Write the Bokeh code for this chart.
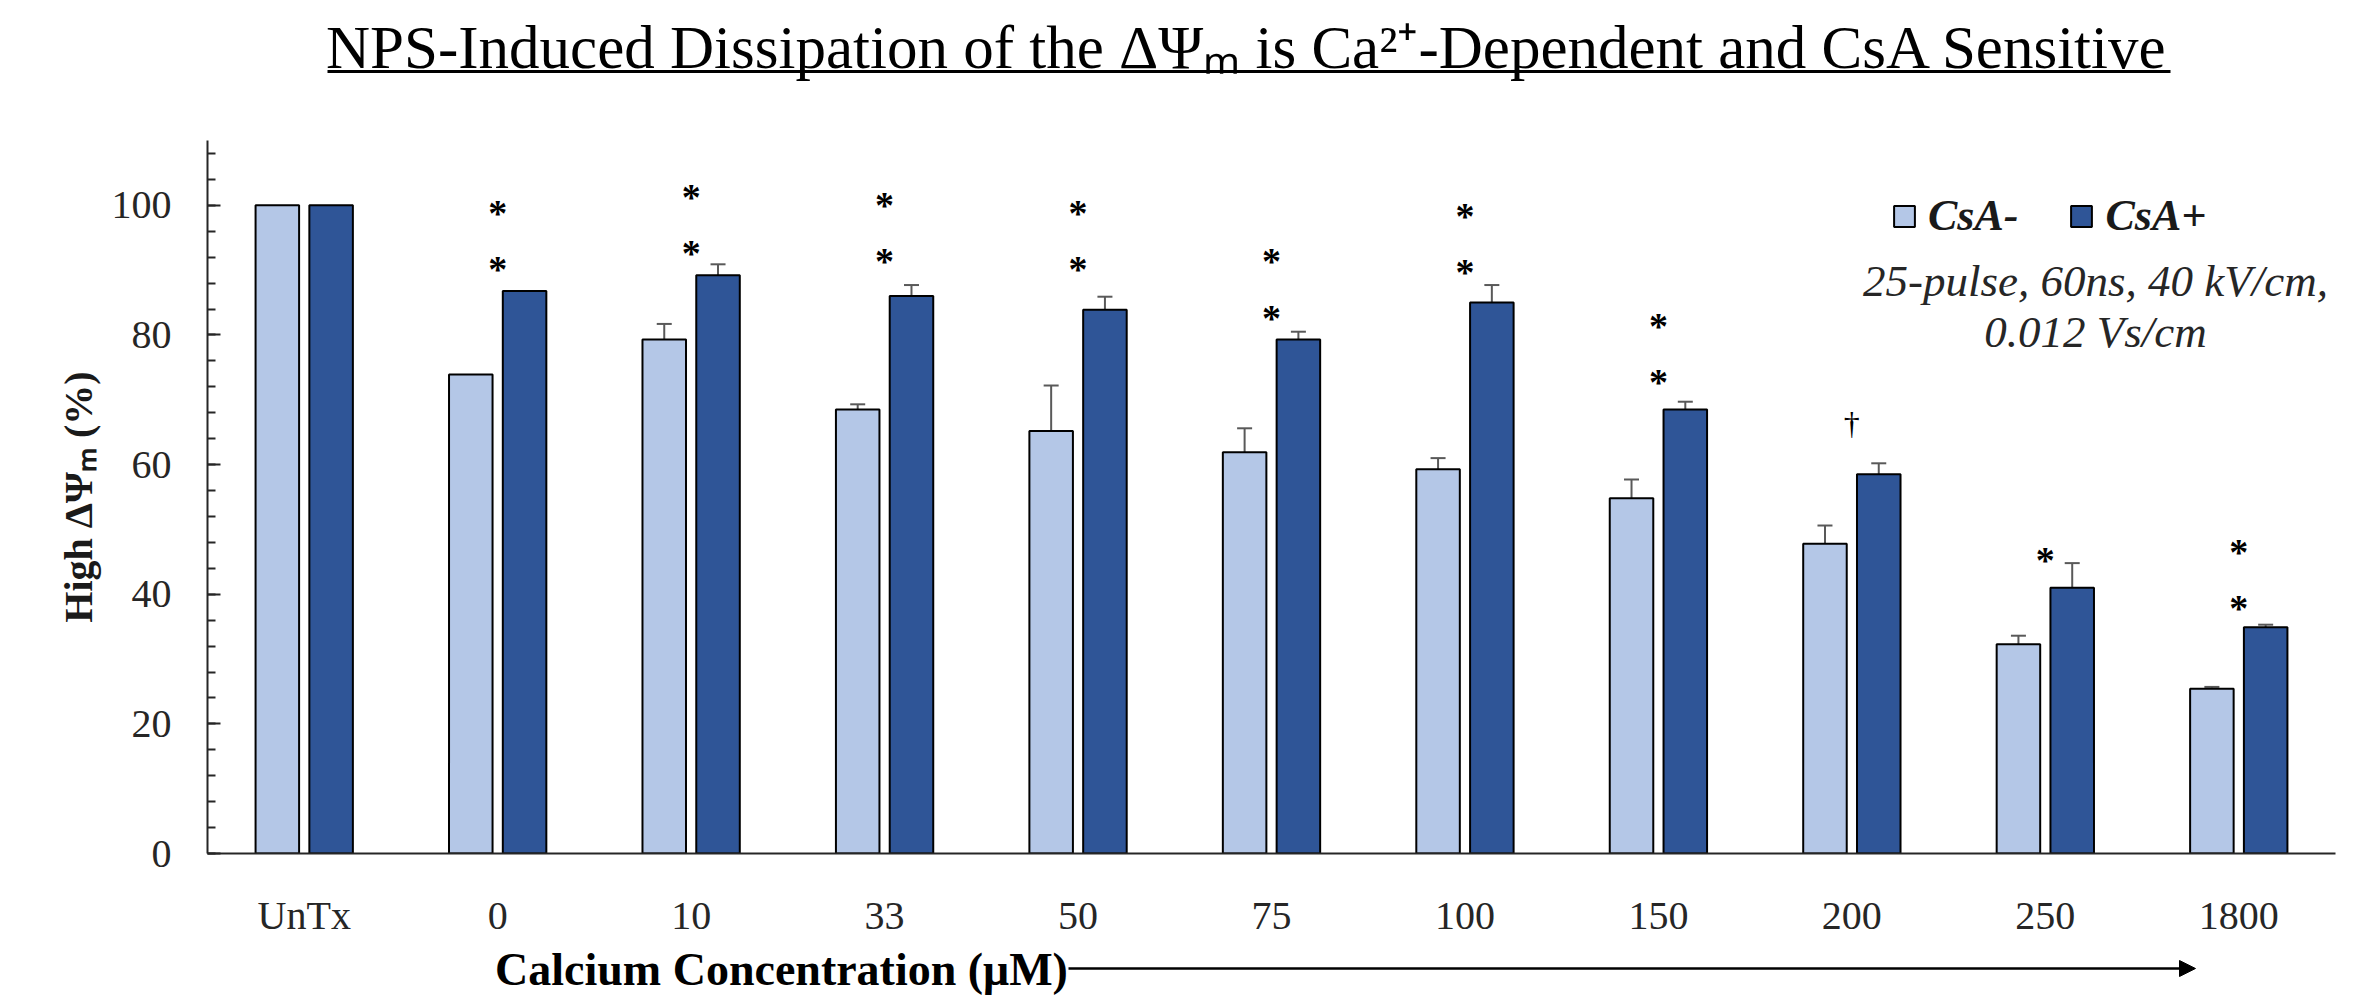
from bokeh.plotting import figure
from bokeh.layouts import column
from bokeh.models import (FactorRange, Range1d, ColumnDataSource, Whisker, TeeHead,
                          Label, Arrow, NormalHead, Legend, LegendItem, SingleIntervalTicker)
from bokeh.transform import dodge
from bokeh.embed import file_html
from bokeh.resources import INLINE
from bokeh.core.properties import value

# ---------------- data ----------------
categories = ["UnTx", "0", "10", "33", "50", "75", "100", "150", "200", "250", "1800"]
csa_minus = [100, 73.9, 79.3, 68.5, 65.2, 61.9, 59.3, 54.8, 47.8, 32.3, 25.4]
csa_minus_err = [0, 0, 2.4, 0.8, 7.0, 3.7, 1.7, 2.9, 2.8, 1.3, 0.3]
csa_plus = [100, 86.8, 89.2, 86.0, 83.9, 79.3, 85.0, 68.5, 58.5, 41.0, 34.9]
csa_plus_err = [0, 0, 1.7, 1.7, 2.0, 1.2, 2.7, 1.2, 1.7, 3.8, 0.4]

star_cats = ["0", "0", "10", "10", "33", "33", "50", "50", "75", "75",
             "100", "100", "150", "150", "250", "1800", "1800"]
star_y = [100.5, 91.8, 103.0, 94.4, 101.8, 93.1, 100.5, 91.8, 93.1, 84.3,
          100.1, 91.4, 83.1, 74.4, 47.0, 48.2, 39.5]
dagger_cats = ["200"]
dagger_y = [67.9]

title_text = "NPS-Induced Dissipation of the \u0394\u03a8\u2098 is Ca\u00b2\u207a-Dependent and CsA Sensitive"
y_title = "High \u0394\u03a8\u2098 (%)"
x_title = "Calcium Concentration (\u03bcM)"
note_line1 = "25-pulse, 60ns, 40 kV/cm,"
note_line2 = "0.012 Vs/cm"

LIGHT = "#B4C7E7"
DARK = "#2F5597"
SERIF = "Liberation Serif"
OFF = 0.139
W = 0.225
LEFT, FRAME_W, RIGHT = 207, 2128, 27


def strip(h):
    # a text strip whose x data units equal the figure's own pixels
    f = figure(frame_width=FRAME_W, frame_height=h,
               min_border_left=LEFT, min_border_right=RIGHT, min_border_top=0, min_border_bottom=0,
               x_range=Range1d(LEFT, LEFT + FRAME_W), y_range=Range1d(0, h),
               x_axis_type=None, y_axis_type=None,
               output_backend="svg", toolbar_location=None, outline_line_color=None,
               background_fill_color="white", border_fill_color="white")
    f.xgrid.visible = False
    f.ygrid.visible = False
    return f

# ---------------- title strip ----------------
top = strip(100)
top.text(x=[1247], y=[53], text=[title_text], text_font=value(SERIF), text_font_size="61px",
         text_align="center", text_baseline="alphabetic", text_color="black")
top.segment(x0=[327], y0=[29], x1=[2170], y1=[29], line_width=3, line_color="black")

# ---------------- main chart ----------------
p = figure(x_range=FactorRange(factors=categories, range_padding=0),
           y_range=Range1d(0, 110),
           frame_width=FRAME_W, frame_height=713,
           min_border_left=LEFT, min_border_right=RIGHT, min_border_top=40, min_border_bottom=80,
           output_backend="svg", toolbar_location=None,
           background_fill_color="white", border_fill_color="white", outline_line_color=None)

src = ColumnDataSource(dict(cats=categories, minus=csa_minus, plus=csa_plus))
r1 = p.vbar(x=dodge("cats", -OFF, range=p.x_range), top="minus", width=W, source=src,
            fill_color=LIGHT, line_color="black", line_width=2)
r2 = p.vbar(x=dodge("cats", OFF, range=p.x_range), top="plus", width=W, source=src,
            fill_color=DARK, line_color="black", line_width=2)


def err_source(vals, errs):
    c, lo, up = [], [], []
    for cat, v, e in zip(categories, vals, errs):
        if e > 0:
            c.append(cat); lo.append(v); up.append(v + e)
    return ColumnDataSource(dict(cats=c, low=lo, up=up))


for vals, errs, off in [(csa_minus, csa_minus_err, -OFF), (csa_plus, csa_plus_err, OFF)]:
    es = err_source(vals, errs)
    p.add_layout(Whisker(base=dodge("cats", off, range=p.x_range), lower="low", upper="up",
                         source=es, line_color="#595959", line_width=2, lower_head=None,
                         upper_head=TeeHead(size=15, line_color="#595959", line_width=2)))

star_src = ColumnDataSource(dict(cats=star_cats, y=star_y, t=["*"] * len(star_cats)))
p.text(x="cats", y="y", text="t", source=star_src, text_font=value(SERIF),
       text_font_size="38px", text_font_style="bold", text_align="center",
       text_baseline="middle", y_offset=11, text_color="black")
dag_src = ColumnDataSource(dict(cats=dagger_cats, y=dagger_y, t=["\u2020"] * len(dagger_cats)))
p.text(x="cats", y="y", text="t", source=dag_src, text_font=value(SERIF),
       text_font_size="32px", text_align="center", text_baseline="middle",
       y_offset=10, text_color="black")

p.xgrid.visible = False
p.ygrid.visible = False
p.yaxis.ticker = SingleIntervalTicker(interval=20, num_minor_ticks=5)
for ax in (p.xaxis, p.yaxis):
    ax.axis_line_width = 2
    ax.axis_line_color = "#262626"
    ax.major_label_text_font = SERIF
    ax.major_label_text_font_size = "40px"
    ax.major_label_text_color = "#262626"
p.yaxis.major_tick_in = 13
p.yaxis.major_tick_out = 0
p.yaxis.minor_tick_in = 8
p.yaxis.minor_tick_out = 0
p.yaxis.major_tick_line_width = 2
p.yaxis.minor_tick_line_width = 2
p.yaxis.major_tick_line_color = "#262626"
p.yaxis.minor_tick_line_color = "#262626"
p.yaxis.major_label_standoff = 36
p.yaxis.axis_label = y_title
p.yaxis.axis_label_text_font = SERIF
p.yaxis.axis_label_text_font_style = "bold"
p.yaxis.axis_label_text_font_size = "40px"
p.yaxis.axis_label_text_color = "#1a1a1a"
p.yaxis.axis_label_standoff = 8
p.xaxis.major_tick_line_color = None
p.xaxis.minor_tick_line_color = None
p.xaxis.major_label_standoff = 33

legend = Legend(items=[LegendItem(label="CsA-", renderers=[r1]),
                       LegendItem(label="CsA+", renderers=[r2])],
                orientation="horizontal", location=(1684, 612),
                glyph_width=26, glyph_height=26, label_standoff=11, spacing=50,
                padding=0, margin=0, border_line_color=None, background_fill_alpha=0,
                label_text_font=SERIF, label_text_font_style="bold italic",
                label_text_font_size="44px", label_text_color="#1a1a1a")
p.add_layout(legend)

p.add_layout(Label(x=1888, y=573, x_units="screen", y_units="screen", text=note_line1,
                   text_font=SERIF, text_font_style="italic", text_font_size="45px",
                   text_align="center", text_baseline="alphabetic", text_color="#262626"))
p.add_layout(Label(x=1888, y=522, x_units="screen", y_units="screen", text=note_line2,
                   text_font=SERIF, text_font_style="italic", text_font_size="45px",
                   text_align="center", text_baseline="alphabetic", text_color="#262626"))

# ---------------- x-axis title strip ----------------
bot = strip(56)
bot.text(x=[781], y=[27], text=[x_title], text_font=value(SERIF), text_font_size="46px",
         text_font_style="bold", text_align="center", text_baseline="alphabetic",
         text_color="black")
bot.add_layout(Arrow(x_start=1068, y_start=28, x_end=2195, y_end=28, line_width=2.5,
                     line_color="black",
                     end=NormalHead(size=16, fill_color="black", line_color="black")))

layout = column(top, p, bot, spacing=0)
open("out.html", "w").write(file_html(layout, INLINE))
